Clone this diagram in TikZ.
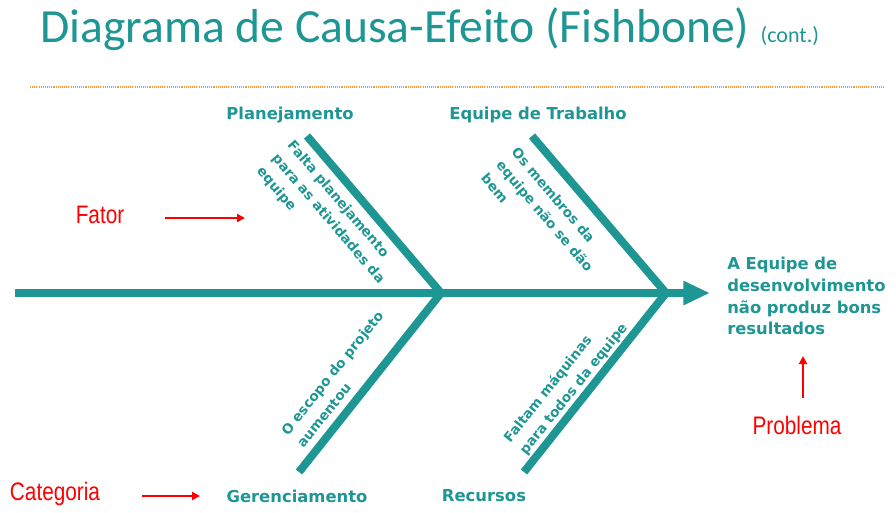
\documentclass[tikz,border=0pt]{standalone}
\usepackage{fontspec}
\setmainfont{DejaVu Sans}
\newfontfamily\titlefont{Carlito}
\newfontfamily\notefont[FakeStretch=0.82]{Liberation Sans}
\usetikzlibrary{arrows.meta}

\definecolor{fishteal}{RGB}{30,150,148}
\definecolor{dotorange}{RGB}{247,150,70}

\tikzset{
  bone/.style={draw=fishteal, line width=6pt},
  cause/.style={text=fishteal, font=\bfseries\fontsize{10.2}{15}\selectfont, align=left, inner sep=0pt},
  category/.style={text=fishteal, font=\bfseries\fontsize{12.3}{16.3}\selectfont, inner sep=0pt},
  note/.style={text=red, font=\notefont\fontsize{19}{22}\selectfont, inner sep=0pt},
  pointer/.style={red, line width=1.5pt, -{Triangle[length=6pt,width=6pt]}}
}

\begin{document}
\begin{tikzpicture}[x=0.75pt, y=-0.75pt]
    \useasboundingbox (0,0) rectangle (896,512);
    % title
    \node[anchor=base west, inner sep=0pt, text=fishteal, font=\titlefont\fontsize{35.7}{40}\selectfont] (title) at (40,42) {Diagrama de Causa-Efeito (Fishbone)};
    \node[anchor=base west, inner sep=0pt, text=fishteal, font=\titlefont\fontsize{16.5}{18}\selectfont] (cont) at ([xshift=8pt]title.base east) {(cont.)};
    \draw[dotorange, line width=1pt, dash pattern=on 0.8pt off 0.8pt] (30,87) -- (885,87);
    % spine and bones
    \coordinate (tail) at (15,293);
    \coordinate (j1) at (441,293);
    \coordinate (j2) at (666,293);
    \coordinate (head) at (710,293);
    \coordinate (b1) at (307,136);
    \coordinate (b2) at (532,136);
    \coordinate (b3) at (299,472);
    \coordinate (b4) at (524,472);
    \draw[bone, -{Triangle[length=20pt,width=17pt]}] (tail) -- (head);
    \foreach \e/\j in {b1/j1, b2/j2, b3/j1, b4/j2}
        \draw[bone] (\e) -- (\j);
    % categories
    \node[category] (plan) at (290,115) {Planejamento};
    \node[category] (team) at (538,115) {Equipe de Trabalho};
    \node[category] (mgmt) at (297,496) {Gerenciamento};
    \node[category] (res) at (484,496) {Recursos};
    % causes
    \node[cause, rotate=-49.5] (c1) at (328,219) {Falta planejamento\\para as atividades da\\equipe};
    \node[cause, rotate=-49.5] (c2) at (545,216) {Os membros da\\equipe não se dão\\bem};
    \node[cause, rotate=51.4] (c3) at (340,379) {O escopo do projeto\\aumentou};
    \node[cause, rotate=51.4] (c4) at (566,383) {Faltam máquinas\\para todos da equipe};
    % effect
    \node[category, align=left, anchor=north west] (effect) at (727,257) {A Equipe de\\desenvolvimento\\não produz bons\\resultados};
    % notes
    \node[note] (fator) at (100,215) {Fator};
    \node[note] (categoria) at (55,494) {Categoria};
    \node[note] (problema) at (797,425) {Problema};
    \coordinate (fatorTip) at (245,218);
    \coordinate (catTip) at (200,496);
    \coordinate (probTip) at (803,356);
    \draw[pointer] ([xshift=30pt]fator.east |- fatorTip) -- (fatorTip);
    \draw[pointer] ([xshift=31pt]categoria.east |- catTip) -- (catTip);
    \draw[pointer] ([yshift=13pt]probTip |- problema.north) -- (probTip);
\end{tikzpicture}
\end{document}
